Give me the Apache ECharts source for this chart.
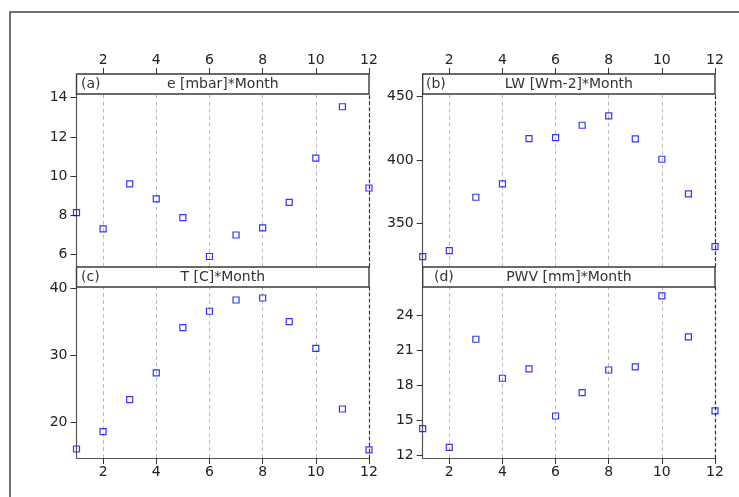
<!DOCTYPE html>
<html>
<head>
<meta charset="utf-8">
<script src="https://cdn.jsdelivr.net/npm/echarts@6/dist/echarts.min.js"></script>
<style>
html,body{margin:0;padding:0;background:#fff;}
#chart{width:739px;height:497px;}
</style>
</head>
<body>
<div id="chart"></div>
<script>
// ---- data ----
const months = [1, 2, 3, 4, 5, 6, 7, 8, 9, 10, 11, 12];
const tickMonths = [2, 4, 6, 8, 10, 12];
const gridMonths = [2, 4, 6, 8, 10];

const eVals   = [8.13, 7.30, 9.60, 8.83, 7.88, 5.89, 6.99, 7.35, 8.66, 10.92, 13.54, 9.39];
const lwVals  = [324.0, 328.7, 370.8, 381.3, 416.9, 417.7, 427.5, 434.8, 416.7, 400.7, 373.4, 331.9];
const tVals   = [16.07, 18.66, 23.43, 27.42, 34.18, 36.63, 38.31, 38.61, 35.07, 31.10, 22.04, 15.93];
const pwvVals = [14.26, 12.66, 21.94, 18.59, 19.39, 15.35, 17.35, 19.30, 19.56, 25.66, 22.14, 15.78];

const eTicks   = [6, 8, 10, 12, 14];
const lwTicks  = [350, 400, 450];
const tTicks   = [20, 30, 40];
const pwvTicks = [12, 15, 18, 21, 24];

const panelTitles = ['e [mbar]*Month', 'LW [Wm-2]*Month', 'T [C]*Month', 'PWV [mm]*Month'];
const panelTags = ['(a)', '(b)', '(c)', '(d)'];

// ---- layout ----
const FONT = 'DejaVu Sans';
const panels = [
  {vals: eVals,   ticks: eTicks,   min: 5.37,  max: 14.19, left: 76.5,  top: 94,  width: 292.5, height: 172.7, top_axis: true,  tagX: 81},
  {vals: lwVals,  ticks: lwTicks,  min: 316.1, max: 452.1, left: 422.7, top: 94,  width: 292.3, height: 172.7, top_axis: true,  tagX: 426},
  {vals: tVals,   ticks: tTicks,   min: 14.73, max: 40.25, left: 76.5,  top: 287, width: 292.5, height: 171,   top_axis: false, tagX: 81},
  {vals: pwvVals, ticks: pwvTicks, min: 11.74, max: 26.43, left: 422.7, top: 287, width: 292.3, height: 171,   top_axis: false, tagX: 434}
];
const STRIP_H = 20;

const grid = [], xAxis = [], yAxis = [], series = [], graphic = [];

graphic.push({
  type: 'rect', shape: {x: 10, y: 12, width: 900, height: 700},
  style: {fill: 'none', stroke: '#444', lineWidth: 1.5}, z: 0, silent: true
});

panels.forEach((p, i) => {
  grid.push({left: p.left, top: p.top, width: p.width, height: p.height, containLabel: false});
  xAxis.push({
    type: 'value', gridIndex: i, min: 1, max: 12,
    position: p.top_axis ? 'top' : 'bottom',
    offset: p.top_axis ? STRIP_H : 0,
    axisLine: {show: !p.top_axis, onZero: false, lineStyle: {color: '#555', width: 1.2}},
    axisTick: {show: true, length: 6, inside: false, customValues: tickMonths, lineStyle: {color: '#333'}},
    axisLabel: {show: true, customValues: tickMonths, margin: 7, color: '#222', fontFamily: FONT, fontSize: 14},
    splitLine: {show: false}
  });
  yAxis.push({
    type: 'value', gridIndex: i, min: p.min, max: p.max, position: 'left',
    axisLine: {show: true, onZero: false, lineStyle: {color: '#555', width: 1.2}},
    axisTick: {show: true, length: 6, customValues: p.ticks, lineStyle: {color: '#333'}},
    axisLabel: {show: true, customValues: p.ticks, margin: 9, color: '#222', fontFamily: FONT, fontSize: 14},
    splitLine: {show: false}
  });
  yAxis.push({
    type: 'value', gridIndex: i, min: p.min, max: p.max, position: 'right',
    axisLine: {show: true, onZero: false, lineStyle: {color: '#333', width: 1.2, type: [3, 3]}},
    axisTick: {show: false}, axisLabel: {show: false}, splitLine: {show: false}
  });
  series.push({
    type: 'scatter', xAxisIndex: i, yAxisIndex: i * 2,
    symbol: 'rect', symbolSize: 6,
    itemStyle: {color: 'rgba(0,0,0,0)', borderColor: '#0000ff', borderWidth: 1.2},
    data: months.map((m, k) => [m, p.vals[k]]),
    clip: false, silent: true, z: 5,
    markLine: {
      silent: true, symbol: 'none', animation: false,
      label: {show: false},
      lineStyle: {color: '#bdbdbd', width: 1, type: [4, 3]},
      data: gridMonths.map(m => ({xAxis: m}))
    }
  });
  // strip
  const sy = p.top - STRIP_H;
  graphic.push({
    type: 'rect', shape: {x: p.left, y: sy, width: p.width, height: STRIP_H},
    style: {fill: '#fff', stroke: '#3a3a3a', lineWidth: 1.4}, z: 10, silent: true
  });
  graphic.push({
    type: 'text', x: p.tagX, y: sy + STRIP_H / 2 + 0.5, z: 11, silent: true,
    style: {text: panelTags[i], fill: '#333', font: '14px "' + FONT + '"', textVerticalAlign: 'middle', textAlign: 'left'}
  });
  graphic.push({
    type: 'text', x: p.left + p.width / 2, y: sy + STRIP_H / 2 + 0.5, z: 11, silent: true,
    style: {text: panelTitles[i], fill: '#333', font: '14px "' + FONT + '"', textVerticalAlign: 'middle', textAlign: 'center'}
  });
});

const chart = echarts.init(document.getElementById('chart'), null, {renderer: 'canvas'});
chart.setOption({
  animation: false,
  backgroundColor: '#fff',
  grid, xAxis, yAxis, series, graphic
});
</script>
</body>
</html>
